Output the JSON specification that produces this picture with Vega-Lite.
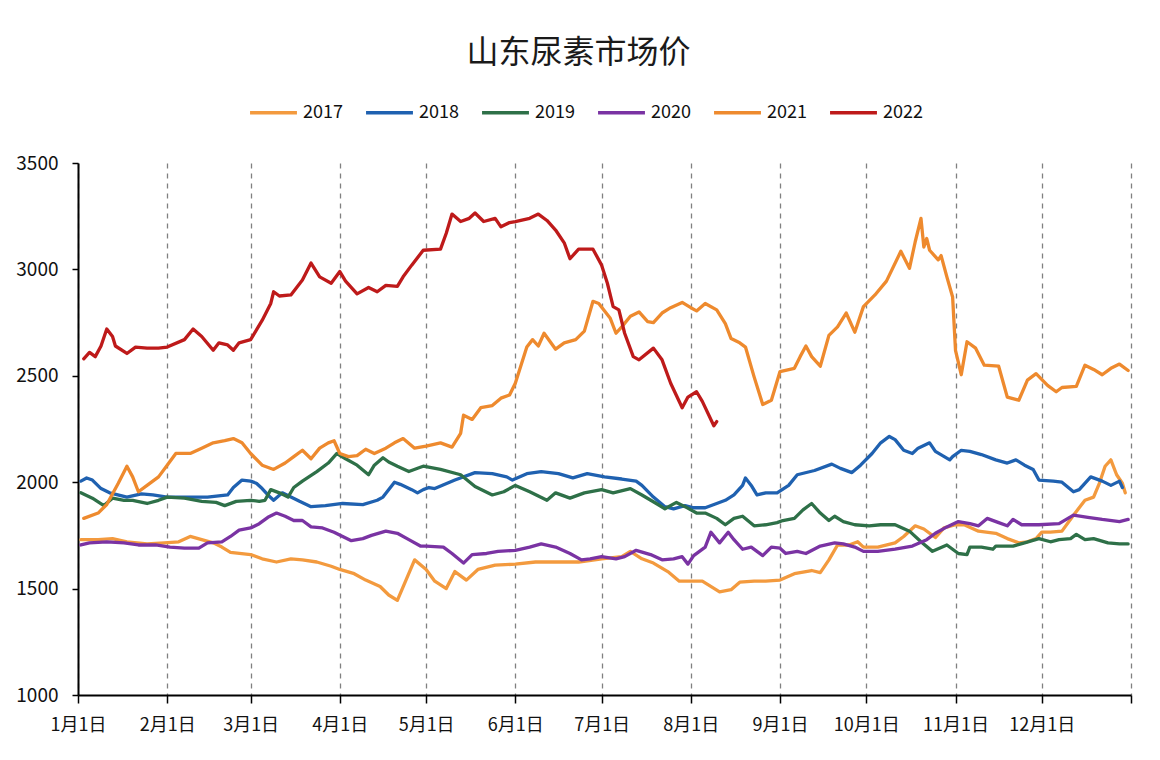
{
"$schema": "https://vega.github.io/schema/vega-lite/v6.json",
"width": 1053, "height": 532,
"autosize": {"type": "none"},
"padding": {"left": 78, "top": 163, "right": 29, "bottom": 65},
"background": "white",
"title": {"text": "山东尿素市场价", "anchor": "middle", "font": "Noto Sans CJK SC", "fontSize": 32, "fontWeight": "normal", "color": "#1a1a1a", "offset": 17, "dx": -26},
"datasets": {"rows": [
{"year":"2017","date":"2017-01-02","price":1730},{"year":"2017","date":"2017-01-08","price":1730},{"year":"2017","date":"2017-01-13","price":1735},{"year":"2017","date":"2017-01-18","price":1720},{"year":"2017","date":"2017-01-25","price":1710},{"year":"2017","date":"2017-01-31","price":1715},{"year":"2017","date":"2017-02-05","price":1720},{"year":"2017","date":"2017-02-09","price":1745},{"year":"2017","date":"2017-02-13","price":1730},{"year":"2017","date":"2017-02-17","price":1715},{"year":"2017","date":"2017-02-20","price":1695},{"year":"2017","date":"2017-02-23","price":1670},{"year":"2017","date":"2017-03-01","price":1660},{"year":"2017","date":"2017-03-05","price":1640},{"year":"2017","date":"2017-03-10","price":1625},{"year":"2017","date":"2017-03-15","price":1640},{"year":"2017","date":"2017-03-19","price":1635},{"year":"2017","date":"2017-03-24","price":1625},{"year":"2017","date":"2017-03-29","price":1605},{"year":"2017","date":"2017-04-01","price":1590},{"year":"2017","date":"2017-04-06","price":1570},{"year":"2017","date":"2017-04-10","price":1540},{"year":"2017","date":"2017-04-15","price":1510},{"year":"2017","date":"2017-04-18","price":1470},{"year":"2017","date":"2017-04-21","price":1445},{"year":"2017","date":"2017-04-24","price":1540},{"year":"2017","date":"2017-04-27","price":1635},{"year":"2017","date":"2017-05-01","price":1590},{"year":"2017","date":"2017-05-04","price":1535},{"year":"2017","date":"2017-05-08","price":1500},{"year":"2017","date":"2017-05-11","price":1580},{"year":"2017","date":"2017-05-15","price":1540},{"year":"2017","date":"2017-05-19","price":1590},{"year":"2017","date":"2017-05-25","price":1610},{"year":"2017","date":"2017-06-01","price":1615},{"year":"2017","date":"2017-06-08","price":1625},{"year":"2017","date":"2017-06-15","price":1625},{"year":"2017","date":"2017-06-23","price":1625},{"year":"2017","date":"2017-07-01","price":1640},{"year":"2017","date":"2017-07-08","price":1650},{"year":"2017","date":"2017-07-11","price":1675},{"year":"2017","date":"2017-07-15","price":1640},{"year":"2017","date":"2017-07-19","price":1620},{"year":"2017","date":"2017-07-24","price":1580},{"year":"2017","date":"2017-07-28","price":1535},{"year":"2017","date":"2017-08-01","price":1535},{"year":"2017","date":"2017-08-05","price":1535},{"year":"2017","date":"2017-08-11","price":1485},{"year":"2017","date":"2017-08-15","price":1495},{"year":"2017","date":"2017-08-18","price":1530},{"year":"2017","date":"2017-08-23","price":1535},{"year":"2017","date":"2017-08-27","price":1535},{"year":"2017","date":"2017-09-01","price":1540},{"year":"2017","date":"2017-09-06","price":1570},{"year":"2017","date":"2017-09-12","price":1585},{"year":"2017","date":"2017-09-15","price":1575},{"year":"2017","date":"2017-09-18","price":1635},{"year":"2017","date":"2017-09-21","price":1705},{"year":"2017","date":"2017-09-25","price":1705},{"year":"2017","date":"2017-09-28","price":1720},{"year":"2017","date":"2017-09-30","price":1695},{"year":"2017","date":"2017-10-05","price":1695},{"year":"2017","date":"2017-10-11","price":1715},{"year":"2017","date":"2017-10-14","price":1745},{"year":"2017","date":"2017-10-18","price":1795},{"year":"2017","date":"2017-10-21","price":1780},{"year":"2017","date":"2017-10-25","price":1740},{"year":"2017","date":"2017-10-28","price":1785},{"year":"2017","date":"2017-11-01","price":1800},{"year":"2017","date":"2017-11-04","price":1800},{"year":"2017","date":"2017-11-09","price":1770},{"year":"2017","date":"2017-11-15","price":1760},{"year":"2017","date":"2017-11-19","price":1735},{"year":"2017","date":"2017-11-23","price":1715},{"year":"2017","date":"2017-11-26","price":1720},{"year":"2017","date":"2017-11-29","price":1735},{"year":"2017","date":"2017-12-01","price":1765},{"year":"2017","date":"2017-12-04","price":1765},{"year":"2017","date":"2017-12-08","price":1770},{"year":"2017","date":"2017-12-12","price":1845},{"year":"2017","date":"2017-12-16","price":1915},{"year":"2017","date":"2017-12-19","price":1930},{"year":"2017","date":"2017-12-21","price":1995},{"year":"2017","date":"2017-12-23","price":2075},{"year":"2017","date":"2017-12-25","price":2105},{"year":"2017","date":"2017-12-27","price":2035},{"year":"2017","date":"2017-12-29","price":1995},{"year":"2017","date":"2017-12-30","price":1950},
{"year":"2018","date":"2018-01-02","price":2005},{"year":"2018","date":"2018-01-04","price":2020},{"year":"2018","date":"2018-01-06","price":2010},{"year":"2018","date":"2018-01-09","price":1970},{"year":"2018","date":"2018-01-12","price":1950},{"year":"2018","date":"2018-01-18","price":1930},{"year":"2018","date":"2018-01-23","price":1945},{"year":"2018","date":"2018-01-27","price":1940},{"year":"2018","date":"2018-02-01","price":1930},{"year":"2018","date":"2018-02-08","price":1930},{"year":"2018","date":"2018-02-15","price":1930},{"year":"2018","date":"2018-02-22","price":1940},{"year":"2018","date":"2018-02-24","price":1975},{"year":"2018","date":"2018-02-27","price":2010},{"year":"2018","date":"2018-03-01","price":2005},{"year":"2018","date":"2018-03-03","price":1995},{"year":"2018","date":"2018-03-05","price":1970},{"year":"2018","date":"2018-03-07","price":1940},{"year":"2018","date":"2018-03-09","price":1915},{"year":"2018","date":"2018-03-12","price":1950},{"year":"2018","date":"2018-03-15","price":1930},{"year":"2018","date":"2018-03-18","price":1910},{"year":"2018","date":"2018-03-22","price":1885},{"year":"2018","date":"2018-03-27","price":1890},{"year":"2018","date":"2018-04-02","price":1900},{"year":"2018","date":"2018-04-09","price":1895},{"year":"2018","date":"2018-04-14","price":1915},{"year":"2018","date":"2018-04-16","price":1930},{"year":"2018","date":"2018-04-20","price":2000},{"year":"2018","date":"2018-04-22","price":1990},{"year":"2018","date":"2018-04-26","price":1965},{"year":"2018","date":"2018-04-28","price":1950},{"year":"2018","date":"2018-04-30","price":1965},{"year":"2018","date":"2018-05-02","price":1975},{"year":"2018","date":"2018-05-04","price":1970},{"year":"2018","date":"2018-05-11","price":2010},{"year":"2018","date":"2018-05-18","price":2045},{"year":"2018","date":"2018-05-24","price":2040},{"year":"2018","date":"2018-05-29","price":2025},{"year":"2018","date":"2018-05-31","price":2010},{"year":"2018","date":"2018-06-05","price":2040},{"year":"2018","date":"2018-06-10","price":2050},{"year":"2018","date":"2018-06-16","price":2040},{"year":"2018","date":"2018-06-21","price":2020},{"year":"2018","date":"2018-06-26","price":2040},{"year":"2018","date":"2018-07-02","price":2025},{"year":"2018","date":"2018-07-08","price":2015},{"year":"2018","date":"2018-07-13","price":2005},{"year":"2018","date":"2018-07-15","price":1985},{"year":"2018","date":"2018-07-19","price":1930},{"year":"2018","date":"2018-07-23","price":1885},{"year":"2018","date":"2018-07-26","price":1875},{"year":"2018","date":"2018-07-30","price":1890},{"year":"2018","date":"2018-08-02","price":1880},{"year":"2018","date":"2018-08-06","price":1880},{"year":"2018","date":"2018-08-10","price":1900},{"year":"2018","date":"2018-08-13","price":1915},{"year":"2018","date":"2018-08-16","price":1940},{"year":"2018","date":"2018-08-19","price":1985},{"year":"2018","date":"2018-08-20","price":2020},{"year":"2018","date":"2018-08-22","price":1985},{"year":"2018","date":"2018-08-24","price":1940},{"year":"2018","date":"2018-08-27","price":1950},{"year":"2018","date":"2018-08-31","price":1950},{"year":"2018","date":"2018-09-04","price":1985},{"year":"2018","date":"2018-09-07","price":2035},{"year":"2018","date":"2018-09-13","price":2055},{"year":"2018","date":"2018-09-19","price":2085},{"year":"2018","date":"2018-09-22","price":2065},{"year":"2018","date":"2018-09-26","price":2045},{"year":"2018","date":"2018-09-29","price":2080},{"year":"2018","date":"2018-10-03","price":2135},{"year":"2018","date":"2018-10-06","price":2185},{"year":"2018","date":"2018-10-09","price":2215},{"year":"2018","date":"2018-10-11","price":2200},{"year":"2018","date":"2018-10-14","price":2150},{"year":"2018","date":"2018-10-17","price":2135},{"year":"2018","date":"2018-10-19","price":2160},{"year":"2018","date":"2018-10-23","price":2185},{"year":"2018","date":"2018-10-25","price":2145},{"year":"2018","date":"2018-10-30","price":2105},{"year":"2018","date":"2018-10-31","price":2120},{"year":"2018","date":"2018-11-03","price":2150},{"year":"2018","date":"2018-11-06","price":2145},{"year":"2018","date":"2018-11-10","price":2130},{"year":"2018","date":"2018-11-15","price":2105},{"year":"2018","date":"2018-11-19","price":2090},{"year":"2018","date":"2018-11-22","price":2105},{"year":"2018","date":"2018-11-25","price":2080},{"year":"2018","date":"2018-11-28","price":2060},{"year":"2018","date":"2018-11-30","price":2010},{"year":"2018","date":"2018-12-05","price":2005},{"year":"2018","date":"2018-12-08","price":2000},{"year":"2018","date":"2018-12-12","price":1955},{"year":"2018","date":"2018-12-14","price":1965},{"year":"2018","date":"2018-12-18","price":2025},{"year":"2018","date":"2018-12-22","price":2005},{"year":"2018","date":"2018-12-25","price":1985},{"year":"2018","date":"2018-12-28","price":2005},{"year":"2018","date":"2018-12-29","price":1975},
{"year":"2019","date":"2019-01-02","price":1950},{"year":"2019","date":"2019-01-06","price":1925},{"year":"2019","date":"2019-01-10","price":1890},{"year":"2019","date":"2019-01-13","price":1925},{"year":"2019","date":"2019-01-17","price":1915},{"year":"2019","date":"2019-01-20","price":1915},{"year":"2019","date":"2019-01-25","price":1900},{"year":"2019","date":"2019-01-29","price":1915},{"year":"2019","date":"2019-02-01","price":1930},{"year":"2019","date":"2019-02-07","price":1925},{"year":"2019","date":"2019-02-13","price":1910},{"year":"2019","date":"2019-02-18","price":1905},{"year":"2019","date":"2019-02-21","price":1890},{"year":"2019","date":"2019-02-25","price":1910},{"year":"2019","date":"2019-03-01","price":1915},{"year":"2019","date":"2019-03-04","price":1910},{"year":"2019","date":"2019-03-06","price":1915},{"year":"2019","date":"2019-03-08","price":1965},{"year":"2019","date":"2019-03-11","price":1950},{"year":"2019","date":"2019-03-14","price":1930},{"year":"2019","date":"2019-03-16","price":1975},{"year":"2019","date":"2019-03-19","price":2005},{"year":"2019","date":"2019-03-24","price":2050},{"year":"2019","date":"2019-03-28","price":2090},{"year":"2019","date":"2019-03-31","price":2135},{"year":"2019","date":"2019-04-03","price":2110},{"year":"2019","date":"2019-04-07","price":2080},{"year":"2019","date":"2019-04-11","price":2035},{"year":"2019","date":"2019-04-13","price":2080},{"year":"2019","date":"2019-04-16","price":2115},{"year":"2019","date":"2019-04-18","price":2095},{"year":"2019","date":"2019-04-21","price":2075},{"year":"2019","date":"2019-04-25","price":2050},{"year":"2019","date":"2019-04-29","price":2070},{"year":"2019","date":"2019-04-30","price":2075},{"year":"2019","date":"2019-05-06","price":2060},{"year":"2019","date":"2019-05-13","price":2035},{"year":"2019","date":"2019-05-18","price":1980},{"year":"2019","date":"2019-05-24","price":1940},{"year":"2019","date":"2019-05-28","price":1955},{"year":"2019","date":"2019-06-01","price":1985},{"year":"2019","date":"2019-06-06","price":1955},{"year":"2019","date":"2019-06-12","price":1915},{"year":"2019","date":"2019-06-15","price":1950},{"year":"2019","date":"2019-06-20","price":1925},{"year":"2019","date":"2019-06-25","price":1950},{"year":"2019","date":"2019-07-01","price":1965},{"year":"2019","date":"2019-07-05","price":1950},{"year":"2019","date":"2019-07-11","price":1970},{"year":"2019","date":"2019-07-15","price":1940},{"year":"2019","date":"2019-07-20","price":1900},{"year":"2019","date":"2019-07-23","price":1875},{"year":"2019","date":"2019-07-27","price":1905},{"year":"2019","date":"2019-07-30","price":1885},{"year":"2019","date":"2019-08-03","price":1855},{"year":"2019","date":"2019-08-06","price":1855},{"year":"2019","date":"2019-08-10","price":1830},{"year":"2019","date":"2019-08-13","price":1800},{"year":"2019","date":"2019-08-16","price":1830},{"year":"2019","date":"2019-08-19","price":1840},{"year":"2019","date":"2019-08-23","price":1795},{"year":"2019","date":"2019-08-27","price":1800},{"year":"2019","date":"2019-08-31","price":1810},{"year":"2019","date":"2019-09-02","price":1820},{"year":"2019","date":"2019-09-06","price":1830},{"year":"2019","date":"2019-09-09","price":1870},{"year":"2019","date":"2019-09-12","price":1900},{"year":"2019","date":"2019-09-15","price":1855},{"year":"2019","date":"2019-09-18","price":1820},{"year":"2019","date":"2019-09-20","price":1840},{"year":"2019","date":"2019-09-23","price":1815},{"year":"2019","date":"2019-09-27","price":1800},{"year":"2019","date":"2019-10-02","price":1795},{"year":"2019","date":"2019-10-06","price":1800},{"year":"2019","date":"2019-10-11","price":1800},{"year":"2019","date":"2019-10-16","price":1770},{"year":"2019","date":"2019-10-20","price":1720},{"year":"2019","date":"2019-10-24","price":1675},{"year":"2019","date":"2019-10-29","price":1705},{"year":"2019","date":"2019-11-02","price":1665},{"year":"2019","date":"2019-11-05","price":1660},{"year":"2019","date":"2019-11-06","price":1695},{"year":"2019","date":"2019-11-10","price":1695},{"year":"2019","date":"2019-11-14","price":1685},{"year":"2019","date":"2019-11-15","price":1700},{"year":"2019","date":"2019-11-21","price":1700},{"year":"2019","date":"2019-11-25","price":1715},{"year":"2019","date":"2019-11-30","price":1735},{"year":"2019","date":"2019-12-04","price":1720},{"year":"2019","date":"2019-12-07","price":1730},{"year":"2019","date":"2019-12-11","price":1735},{"year":"2019","date":"2019-12-13","price":1755},{"year":"2019","date":"2019-12-16","price":1730},{"year":"2019","date":"2019-12-19","price":1735},{"year":"2019","date":"2019-12-24","price":1715},{"year":"2019","date":"2019-12-28","price":1710},{"year":"2019","date":"2019-12-31","price":1710},
{"year":"2020","date":"2020-01-02","price":1705},{"year":"2020","date":"2020-01-05","price":1715},{"year":"2020","date":"2020-01-11","price":1720},{"year":"2020","date":"2020-01-17","price":1715},{"year":"2020","date":"2020-01-22","price":1705},{"year":"2020","date":"2020-01-28","price":1705},{"year":"2020","date":"2020-02-02","price":1695},{"year":"2020","date":"2020-02-07","price":1690},{"year":"2020","date":"2020-02-12","price":1690},{"year":"2020","date":"2020-02-15","price":1715},{"year":"2020","date":"2020-02-20","price":1720},{"year":"2020","date":"2020-02-23","price":1745},{"year":"2020","date":"2020-02-26","price":1775},{"year":"2020","date":"2020-03-01","price":1785},{"year":"2020","date":"2020-03-04","price":1805},{"year":"2020","date":"2020-03-07","price":1835},{"year":"2020","date":"2020-03-10","price":1855},{"year":"2020","date":"2020-03-13","price":1840},{"year":"2020","date":"2020-03-16","price":1820},{"year":"2020","date":"2020-03-19","price":1820},{"year":"2020","date":"2020-03-22","price":1790},{"year":"2020","date":"2020-03-26","price":1785},{"year":"2020","date":"2020-03-30","price":1765},{"year":"2020","date":"2020-04-02","price":1745},{"year":"2020","date":"2020-04-05","price":1725},{"year":"2020","date":"2020-04-09","price":1735},{"year":"2020","date":"2020-04-12","price":1750},{"year":"2020","date":"2020-04-17","price":1770},{"year":"2020","date":"2020-04-21","price":1760},{"year":"2020","date":"2020-04-25","price":1730},{"year":"2020","date":"2020-04-29","price":1700},{"year":"2020","date":"2020-05-01","price":1700},{"year":"2020","date":"2020-05-07","price":1695},{"year":"2020","date":"2020-05-10","price":1665},{"year":"2020","date":"2020-05-14","price":1620},{"year":"2020","date":"2020-05-17","price":1660},{"year":"2020","date":"2020-05-22","price":1665},{"year":"2020","date":"2020-05-26","price":1675},{"year":"2020","date":"2020-06-01","price":1680},{"year":"2020","date":"2020-06-06","price":1695},{"year":"2020","date":"2020-06-10","price":1710},{"year":"2020","date":"2020-06-15","price":1695},{"year":"2020","date":"2020-06-20","price":1665},{"year":"2020","date":"2020-06-24","price":1635},{"year":"2020","date":"2020-06-27","price":1640},{"year":"2020","date":"2020-07-01","price":1650},{"year":"2020","date":"2020-07-06","price":1640},{"year":"2020","date":"2020-07-09","price":1650},{"year":"2020","date":"2020-07-13","price":1680},{"year":"2020","date":"2020-07-18","price":1660},{"year":"2020","date":"2020-07-22","price":1635},{"year":"2020","date":"2020-07-26","price":1640},{"year":"2020","date":"2020-07-29","price":1650},{"year":"2020","date":"2020-07-31","price":1615},{"year":"2020","date":"2020-08-02","price":1655},{"year":"2020","date":"2020-08-04","price":1675},{"year":"2020","date":"2020-08-06","price":1695},{"year":"2020","date":"2020-08-08","price":1765},{"year":"2020","date":"2020-08-11","price":1715},{"year":"2020","date":"2020-08-14","price":1765},{"year":"2020","date":"2020-08-16","price":1730},{"year":"2020","date":"2020-08-19","price":1685},{"year":"2020","date":"2020-08-22","price":1695},{"year":"2020","date":"2020-08-26","price":1655},{"year":"2020","date":"2020-08-29","price":1695},{"year":"2020","date":"2020-09-01","price":1690},{"year":"2020","date":"2020-09-03","price":1665},{"year":"2020","date":"2020-09-07","price":1675},{"year":"2020","date":"2020-09-10","price":1665},{"year":"2020","date":"2020-09-15","price":1700},{"year":"2020","date":"2020-09-20","price":1715},{"year":"2020","date":"2020-09-23","price":1710},{"year":"2020","date":"2020-09-27","price":1695},{"year":"2020","date":"2020-09-30","price":1675},{"year":"2020","date":"2020-10-05","price":1675},{"year":"2020","date":"2020-10-11","price":1685},{"year":"2020","date":"2020-10-17","price":1700},{"year":"2020","date":"2020-10-22","price":1730},{"year":"2020","date":"2020-10-25","price":1760},{"year":"2020","date":"2020-10-29","price":1790},{"year":"2020","date":"2020-11-02","price":1815},{"year":"2020","date":"2020-11-06","price":1805},{"year":"2020","date":"2020-11-09","price":1795},{"year":"2020","date":"2020-11-12","price":1830},{"year":"2020","date":"2020-11-16","price":1810},{"year":"2020","date":"2020-11-19","price":1795},{"year":"2020","date":"2020-11-21","price":1825},{"year":"2020","date":"2020-11-24","price":1800},{"year":"2020","date":"2020-11-30","price":1800},{"year":"2020","date":"2020-12-07","price":1805},{"year":"2020","date":"2020-12-12","price":1845},{"year":"2020","date":"2020-12-17","price":1835},{"year":"2020","date":"2020-12-22","price":1825},{"year":"2020","date":"2020-12-28","price":1815},{"year":"2020","date":"2020-12-31","price":1825},
{"year":"2021","date":"2021-01-03","price":1830},{"year":"2021","date":"2021-01-08","price":1855},{"year":"2021","date":"2021-01-11","price":1895},{"year":"2021","date":"2021-01-15","price":1995},{"year":"2021","date":"2021-01-18","price":2075},{"year":"2021","date":"2021-01-20","price":2025},{"year":"2021","date":"2021-01-22","price":1955},{"year":"2021","date":"2021-01-25","price":1985},{"year":"2021","date":"2021-01-29","price":2025},{"year":"2021","date":"2021-02-01","price":2080},{"year":"2021","date":"2021-02-04","price":2135},{"year":"2021","date":"2021-02-09","price":2135},{"year":"2021","date":"2021-02-13","price":2160},{"year":"2021","date":"2021-02-17","price":2185},{"year":"2021","date":"2021-02-21","price":2195},{"year":"2021","date":"2021-02-24","price":2205},{"year":"2021","date":"2021-02-27","price":2185},{"year":"2021","date":"2021-03-01","price":2135},{"year":"2021","date":"2021-03-05","price":2080},{"year":"2021","date":"2021-03-09","price":2060},{"year":"2021","date":"2021-03-13","price":2090},{"year":"2021","date":"2021-03-16","price":2120},{"year":"2021","date":"2021-03-19","price":2150},{"year":"2021","date":"2021-03-22","price":2110},{"year":"2021","date":"2021-03-25","price":2160},{"year":"2021","date":"2021-03-28","price":2185},{"year":"2021","date":"2021-03-30","price":2195},{"year":"2021","date":"2021-04-01","price":2135},{"year":"2021","date":"2021-04-04","price":2120},{"year":"2021","date":"2021-04-07","price":2125},{"year":"2021","date":"2021-04-10","price":2155},{"year":"2021","date":"2021-04-13","price":2135},{"year":"2021","date":"2021-04-17","price":2160},{"year":"2021","date":"2021-04-20","price":2185},{"year":"2021","date":"2021-04-23","price":2205},{"year":"2021","date":"2021-04-27","price":2160},{"year":"2021","date":"2021-05-01","price":2170},{"year":"2021","date":"2021-05-06","price":2185},{"year":"2021","date":"2021-05-10","price":2165},{"year":"2021","date":"2021-05-13","price":2230},{"year":"2021","date":"2021-05-14","price":2315},{"year":"2021","date":"2021-05-17","price":2295},{"year":"2021","date":"2021-05-20","price":2350},{"year":"2021","date":"2021-05-24","price":2360},{"year":"2021","date":"2021-05-27","price":2395},{"year":"2021","date":"2021-05-30","price":2410},{"year":"2021","date":"2021-06-01","price":2465},{"year":"2021","date":"2021-06-05","price":2635},{"year":"2021","date":"2021-06-07","price":2670},{"year":"2021","date":"2021-06-09","price":2640},{"year":"2021","date":"2021-06-11","price":2700},{"year":"2021","date":"2021-06-15","price":2625},{"year":"2021","date":"2021-06-18","price":2655},{"year":"2021","date":"2021-06-22","price":2670},{"year":"2021","date":"2021-06-25","price":2710},{"year":"2021","date":"2021-06-28","price":2850},{"year":"2021","date":"2021-06-30","price":2840},{"year":"2021","date":"2021-07-04","price":2770},{"year":"2021","date":"2021-07-06","price":2700},{"year":"2021","date":"2021-07-08","price":2730},{"year":"2021","date":"2021-07-11","price":2780},{"year":"2021","date":"2021-07-14","price":2800},{"year":"2021","date":"2021-07-17","price":2755},{"year":"2021","date":"2021-07-19","price":2750},{"year":"2021","date":"2021-07-22","price":2795},{"year":"2021","date":"2021-07-25","price":2820},{"year":"2021","date":"2021-07-29","price":2845},{"year":"2021","date":"2021-08-01","price":2820},{"year":"2021","date":"2021-08-03","price":2805},{"year":"2021","date":"2021-08-06","price":2840},{"year":"2021","date":"2021-08-10","price":2810},{"year":"2021","date":"2021-08-13","price":2745},{"year":"2021","date":"2021-08-15","price":2675},{"year":"2021","date":"2021-08-18","price":2655},{"year":"2021","date":"2021-08-20","price":2635},{"year":"2021","date":"2021-08-23","price":2495},{"year":"2021","date":"2021-08-26","price":2365},{"year":"2021","date":"2021-08-29","price":2385},{"year":"2021","date":"2021-08-30","price":2430},{"year":"2021","date":"2021-09-01","price":2520},{"year":"2021","date":"2021-09-06","price":2535},{"year":"2021","date":"2021-09-08","price":2590},{"year":"2021","date":"2021-09-10","price":2640},{"year":"2021","date":"2021-09-12","price":2590},{"year":"2021","date":"2021-09-15","price":2545},{"year":"2021","date":"2021-09-18","price":2690},{"year":"2021","date":"2021-09-21","price":2730},{"year":"2021","date":"2021-09-24","price":2795},{"year":"2021","date":"2021-09-27","price":2705},{"year":"2021","date":"2021-09-30","price":2825},{"year":"2021","date":"2021-10-04","price":2880},{"year":"2021","date":"2021-10-08","price":2945},{"year":"2021","date":"2021-10-13","price":3085},{"year":"2021","date":"2021-10-16","price":3005},{"year":"2021","date":"2021-10-18","price":3130},{"year":"2021","date":"2021-10-20","price":3240},{"year":"2021","date":"2021-10-21","price":3105},{"year":"2021","date":"2021-10-22","price":3145},{"year":"2021","date":"2021-10-23","price":3090},{"year":"2021","date":"2021-10-26","price":3045},{"year":"2021","date":"2021-10-27","price":3065},{"year":"2021","date":"2021-10-29","price":2965},{"year":"2021","date":"2021-10-31","price":2870},{"year":"2021","date":"2021-11-01","price":2620},{"year":"2021","date":"2021-11-03","price":2505},{"year":"2021","date":"2021-11-05","price":2660},{"year":"2021","date":"2021-11-08","price":2630},{"year":"2021","date":"2021-11-11","price":2550},{"year":"2021","date":"2021-11-16","price":2545},{"year":"2021","date":"2021-11-19","price":2400},{"year":"2021","date":"2021-11-23","price":2385},{"year":"2021","date":"2021-11-26","price":2480},{"year":"2021","date":"2021-11-29","price":2510},{"year":"2021","date":"2021-12-03","price":2455},{"year":"2021","date":"2021-12-06","price":2425},{"year":"2021","date":"2021-12-08","price":2445},{"year":"2021","date":"2021-12-13","price":2450},{"year":"2021","date":"2021-12-16","price":2550},{"year":"2021","date":"2021-12-19","price":2530},{"year":"2021","date":"2021-12-22","price":2505},{"year":"2021","date":"2021-12-25","price":2535},{"year":"2021","date":"2021-12-28","price":2555},{"year":"2021","date":"2021-12-31","price":2525},
{"year":"2022","date":"2022-01-03","price":2580},{"year":"2022","date":"2022-01-05","price":2610},{"year":"2022","date":"2022-01-07","price":2590},{"year":"2022","date":"2022-01-09","price":2640},{"year":"2022","date":"2022-01-11","price":2720},{"year":"2022","date":"2022-01-13","price":2685},{"year":"2022","date":"2022-01-14","price":2640},{"year":"2022","date":"2022-01-18","price":2605},{"year":"2022","date":"2022-01-21","price":2635},{"year":"2022","date":"2022-01-25","price":2630},{"year":"2022","date":"2022-01-29","price":2630},{"year":"2022","date":"2022-02-01","price":2635},{"year":"2022","date":"2022-02-07","price":2670},{"year":"2022","date":"2022-02-10","price":2720},{"year":"2022","date":"2022-02-13","price":2685},{"year":"2022","date":"2022-02-17","price":2620},{"year":"2022","date":"2022-02-19","price":2655},{"year":"2022","date":"2022-02-22","price":2645},{"year":"2022","date":"2022-02-24","price":2620},{"year":"2022","date":"2022-02-26","price":2655},{"year":"2022","date":"2022-03-01","price":2670},{"year":"2022","date":"2022-03-05","price":2760},{"year":"2022","date":"2022-03-08","price":2840},{"year":"2022","date":"2022-03-09","price":2895},{"year":"2022","date":"2022-03-11","price":2875},{"year":"2022","date":"2022-03-15","price":2880},{"year":"2022","date":"2022-03-19","price":2950},{"year":"2022","date":"2022-03-22","price":3030},{"year":"2022","date":"2022-03-25","price":2965},{"year":"2022","date":"2022-03-29","price":2935},{"year":"2022","date":"2022-04-01","price":2990},{"year":"2022","date":"2022-04-03","price":2945},{"year":"2022","date":"2022-04-07","price":2885},{"year":"2022","date":"2022-04-11","price":2915},{"year":"2022","date":"2022-04-14","price":2895},{"year":"2022","date":"2022-04-17","price":2925},{"year":"2022","date":"2022-04-21","price":2920},{"year":"2022","date":"2022-04-23","price":2965},{"year":"2022","date":"2022-04-26","price":3020},{"year":"2022","date":"2022-04-30","price":3090},{"year":"2022","date":"2022-05-06","price":3095},{"year":"2022","date":"2022-05-08","price":3170},{"year":"2022","date":"2022-05-10","price":3260},{"year":"2022","date":"2022-05-13","price":3225},{"year":"2022","date":"2022-05-16","price":3240},{"year":"2022","date":"2022-05-18","price":3265},{"year":"2022","date":"2022-05-21","price":3225},{"year":"2022","date":"2022-05-25","price":3240},{"year":"2022","date":"2022-05-27","price":3200},{"year":"2022","date":"2022-05-30","price":3220},{"year":"2022","date":"2022-06-01","price":3225},{"year":"2022","date":"2022-06-06","price":3240},{"year":"2022","date":"2022-06-09","price":3260},{"year":"2022","date":"2022-06-12","price":3230},{"year":"2022","date":"2022-06-15","price":3185},{"year":"2022","date":"2022-06-18","price":3125},{"year":"2022","date":"2022-06-20","price":3050},{"year":"2022","date":"2022-06-23","price":3095},{"year":"2022","date":"2022-06-28","price":3095},{"year":"2022","date":"2022-07-01","price":3020},{"year":"2022","date":"2022-07-03","price":2935},{"year":"2022","date":"2022-07-05","price":2825},{"year":"2022","date":"2022-07-07","price":2810},{"year":"2022","date":"2022-07-09","price":2700},{"year":"2022","date":"2022-07-12","price":2590},{"year":"2022","date":"2022-07-14","price":2575},{"year":"2022","date":"2022-07-19","price":2630},{"year":"2022","date":"2022-07-22","price":2575},{"year":"2022","date":"2022-07-25","price":2465},{"year":"2022","date":"2022-07-29","price":2350},{"year":"2022","date":"2022-07-31","price":2400},{"year":"2022","date":"2022-08-03","price":2425},{"year":"2022","date":"2022-08-05","price":2380},{"year":"2022","date":"2022-08-09","price":2265},{"year":"2022","date":"2022-08-10","price":2285}
]},
"data": {"name": "rows"},
"mark": {"type": "line", "strokeJoin": "round", "strokeCap": "round"},
"encoding": {
  "x": {"field": "date", "type": "temporal", "timeUnit": "utcmonthdate",
    "scale": {"domain": [{"year": 2012, "month": 1, "date": 1, "utc": true}, {"year": 2013, "month": 1, "date": 1, "utc": true}], "nice": false},
    "axis": {"title": null, "format": "%-m月%-d日", "tickCount": {"interval": "month", "step": 1}, "labelExpr": "utcyear(datum.value) > 2012 ? '' : datum.label", "grid": true, "gridDash": [5, 5], "gridColor": "#808080", "gridWidth": 1.3, "domainColor": "#000000", "domainWidth": 2, "tickColor": "#000000", "tickSize": 8, "tickWidth": 1.5, "labelFont": "Noto Sans CJK SC", "labelFontSize": 18, "labelColor": "#111111", "labelPadding": 13, "labelFlush": false, "labelOverlap": false, "labelBound": false}},
  "y": {"field": "price", "type": "quantitative",
    "scale": {"domain": [1000, 3500], "nice": false, "zero": false},
    "axis": {"title": null, "values": [1000, 1500, 2000, 2500, 3000, 3500], "format": "d", "grid": false, "domainColor": "#000000", "domainWidth": 2, "tickColor": "#000000", "tickSize": 6, "tickWidth": 1.5, "labelFont": "Noto Sans CJK SC", "labelFontSize": 19, "labelColor": "#111111", "labelPadding": 14}},
  "color": {"field": "year", "type": "nominal",
    "scale": {"domain": ["2017", "2018", "2019", "2020", "2021", "2022"], "range": ["#F39A3E", "#1F61B0", "#2E7048", "#7A33A3", "#EE8A2E", "#BE1A1A"]},
    "legend": {"orient": "none", "direction": "horizontal", "columns": 6, "legendX": 170, "legendY": -76, "title": null, "symbolType": "stroke", "symbolSize": 2200, "symbolStrokeWidth": 5, "labelFont": "Noto Sans CJK SC", "labelFontSize": 18, "labelColor": "#111111", "labelOffset": 4, "columnPadding": 16}},
  "strokeWidth": {"field": "year", "type": "ordinal", "scale": {"domain": ["2017", "2018", "2019", "2020", "2021", "2022"], "range": [3.3, 3.3, 3.3, 3.3, 3.3, 4.5]}, "legend": null}
},
"config": {"view": {"stroke": null}}
}
